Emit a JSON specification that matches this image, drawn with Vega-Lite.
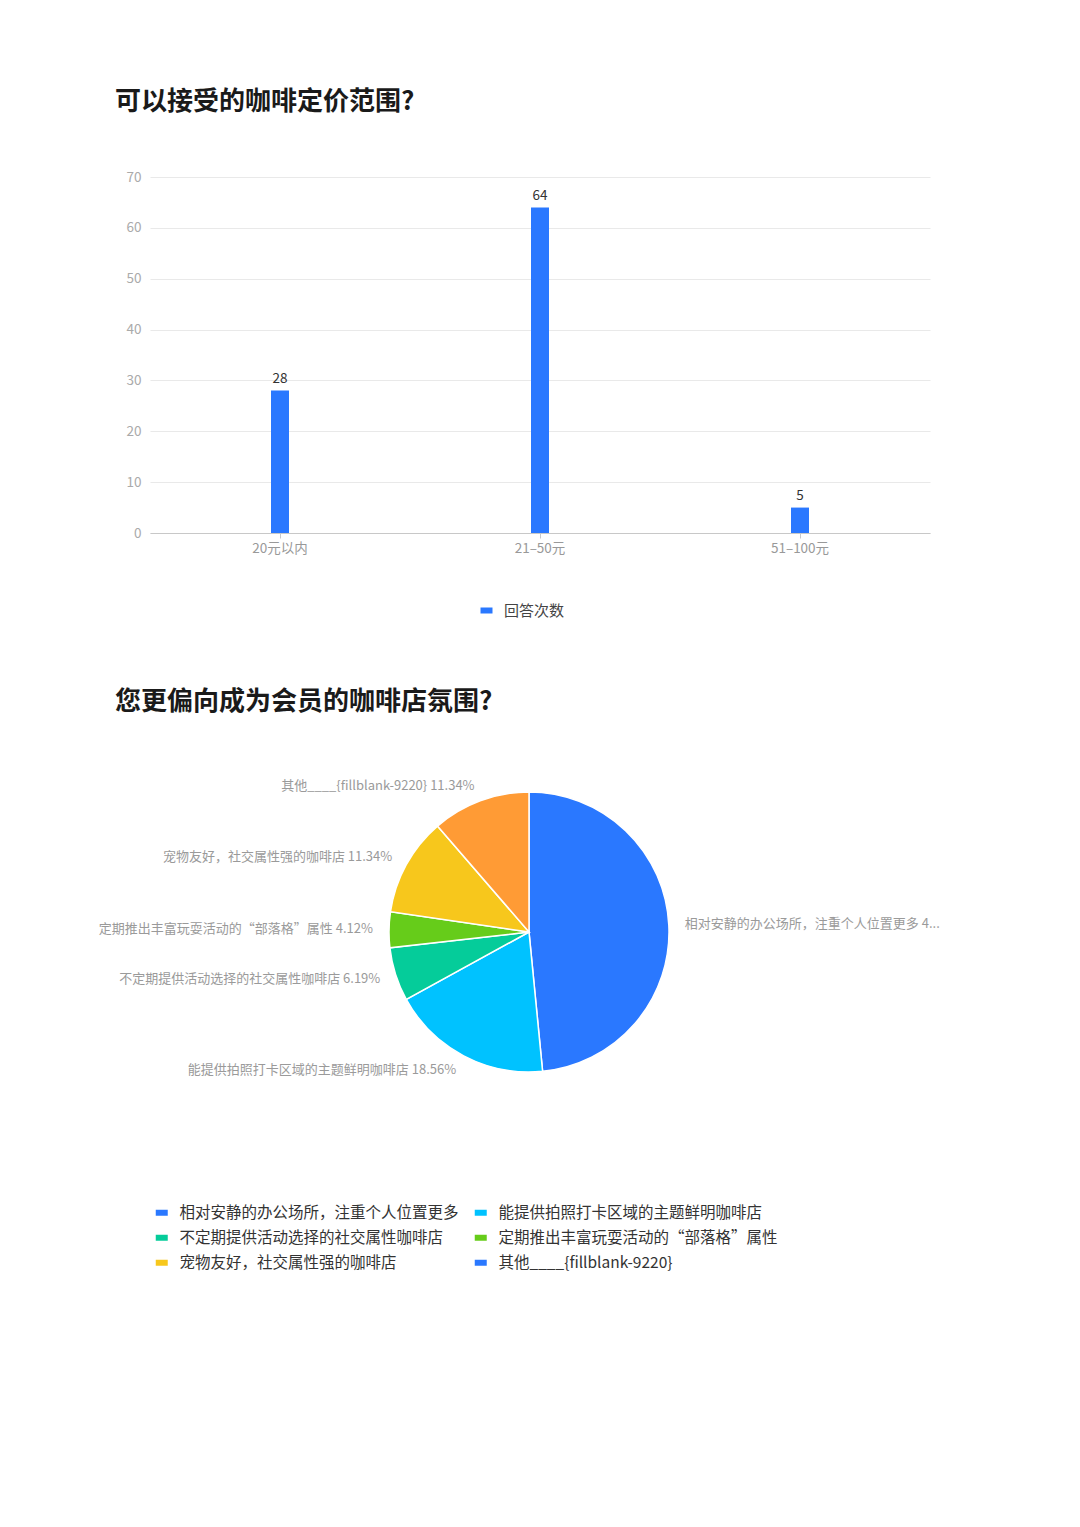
{
  "$schema": "https://vega.github.io/schema/vega-lite/v6.json",
  "background": "white",
  "padding": {"left": 98, "top": 89, "right": 0, "bottom": 0},
  "bounds": "flush",
  "spacing": 259,
  "config": {
    "view": {"stroke": null},
    "font": "Noto Sans CJK SC"
  },
  "vconcat": [
    {
      "title": {
        "text": "可以接受的咖啡定价范围?",
        "anchor": "start", "frame": "group", "dx": -35, "offset": 55,
        "fontSize": 26, "fontWeight": "bold", "color": "#1a1a1a"
      },
      "width": 780,
      "height": 356,
      "data": {
        "values": [
          {"range": "20元以内", "count": 28},
          {"range": "21–50元", "count": 64},
          {"range": "51–100元", "count": 5}
        ]
      },
      "encoding": {
        "x": {
          "field": "range", "type": "nominal", "sort": null,
          "scale": {"paddingInner": 0, "paddingOuter": 0},
          "axis": {
            "title": null, "labelAngle": 0, "labelColor": "#999", "labelFontSize": 13.5,
            "domainColor": "#c8c8c8", "tickColor": "#c8c8c8", "tickSize": 5, "labelPadding": 3
          }
        },
        "y": {
          "field": "count", "type": "quantitative",
          "scale": {"domain": [0, 70]},
          "axis": {
            "title": null, "values": [0, 10, 20, 30, 40, 50, 60, 70], "domain": false, "ticks": false,
            "gridColor": "#e9e9e9", "labelColor": "#aaa", "labelFontSize": 13.5, "labelPadding": 9
          }
        }
      },
      "layer": [
        {
          "mark": {"type": "bar", "size": 18},
          "encoding": {
            "color": {
              "datum": "回答次数",
              "scale": {"range": ["#2a78ff"]},
              "legend": {
                "title": null, "orient": "none", "legendX": 329, "legendY": 426,
                "symbolType": "M-1,-0.5h2v1h-2z", "symbolSize": 144,
                "labelFontSize": 15, "labelColor": "#444", "labelOffset": 10
              }
            }
          }
        },
        {
          "mark": {"type": "text", "dy": -12, "fontSize": 13.5, "color": "#333"},
          "encoding": {"text": {"field": "count", "type": "quantitative"}}
        }
      ]
    },
    {
      "title": {
        "text": "您更偏向成为会员的咖啡店氛围?",
        "anchor": "start", "frame": "group", "dx": -35, "offset": 65,
        "fontSize": 26, "fontWeight": "bold", "color": "#1a1a1a"
      },
      "width": 758,
      "height": 280,
      "data": {
        "values": [
          {"rank": 1, "cat": "相对安静的办公场所，注重个人位置更多", "pct": 48.45, "label": "相对安静的办公场所，注重个人位置更多 48.45%"},
          {"rank": 2, "cat": "能提供拍照打卡区域的主题鲜明咖啡店", "pct": 18.56, "label": "能提供拍照打卡区域的主题鲜明咖啡店 18.56%"},
          {"rank": 3, "cat": "不定期提供活动选择的社交属性咖啡店", "pct": 6.19, "label": "不定期提供活动选择的社交属性咖啡店 6.19%"},
          {"rank": 4, "cat": "定期推出丰富玩耍活动的“部落格”属性", "pct": 4.12, "label": "定期推出丰富玩耍活动的“部落格”属性 4.12%"},
          {"rank": 5, "cat": "宠物友好，社交属性强的咖啡店", "pct": 11.34, "label": "宠物友好，社交属性强的咖啡店 11.34%"},
          {"rank": 6, "cat": "其他____{fillblank-9220}", "pct": 11.34, "label": "其他____{fillblank-9220} 11.34%"}
        ]
      },
      "encoding": {
        "theta": {"field": "pct", "type": "quantitative", "stack": true},
        "order": {"field": "rank", "type": "quantitative"}
      },
      "layer": [
        {
          "mark": {"type": "arc", "outerRadius": 140, "stroke": "white", "strokeWidth": 1.5},
          "encoding": {
            "color": {
              "field": "cat", "type": "nominal",
              "scale": {
                "domain": ["相对安静的办公场所，注重个人位置更多", "能提供拍照打卡区域的主题鲜明咖啡店", "不定期提供活动选择的社交属性咖啡店", "定期推出丰富玩耍活动的“部落格”属性", "宠物友好，社交属性强的咖啡店", "其他____{fillblank-9220}"],
                "range": ["#2a78ff", "#00c2ff", "#05cc9a", "#66cc1a", "#f7c71c", "#ff9b35"]
              },
              "legend": null
            }
          }
        },
        {
          "mark": {"type": "text", "radius": 156, "align": "right", "baseline": "middle", "fontSize": 13, "color": "#9a9a9a"},
          "encoding": {"text": {"condition": {"test": "datum.rank > 1", "field": "label"}, "value": ""}}
        },
        {
          "mark": {"type": "text", "radius": 156, "align": "left", "baseline": "middle", "fontSize": 13, "color": "#9a9a9a", "limit": 256, "ellipsis": "..."},
          "encoding": {"text": {"condition": {"test": "datum.rank == 1", "field": "label"}, "value": ""}}
        },
        {
          "mark": {"type": "text"},
          "encoding": {
            "text": {"value": ""},
            "color": {
              "field": "cat", "type": "nominal",
              "scale": {
                "domain": ["相对安静的办公场所，注重个人位置更多", "能提供拍照打卡区域的主题鲜明咖啡店", "不定期提供活动选择的社交属性咖啡店", "定期推出丰富玩耍活动的“部落格”属性", "宠物友好，社交属性强的咖啡店", "其他____{fillblank-9220}"],
                "range": ["#2a78ff", "#00c2ff", "#05cc9a", "#66cc1a", "#f7c71c", "#2a78ff"]
              },
              "legend": {
                "title": null, "orient": "none", "legendX": 4, "legendY": 413,
                "direction": "horizontal", "columns": 2, "gridAlign": "none",
                "symbolType": "M-1,-0.5h2v1h-2z", "symbolSize": 144, "symbolOpacity": 1,
                "labelFontSize": 15.5, "labelColor": "#333", "labelOffset": 10, "labelLimit": 0,
                "rowPadding": 8, "columnPadding": 14
              }
            }
          }
        }
      ],
      "resolve": {"scale": {"color": "independent"}}
    }
  ]
}
